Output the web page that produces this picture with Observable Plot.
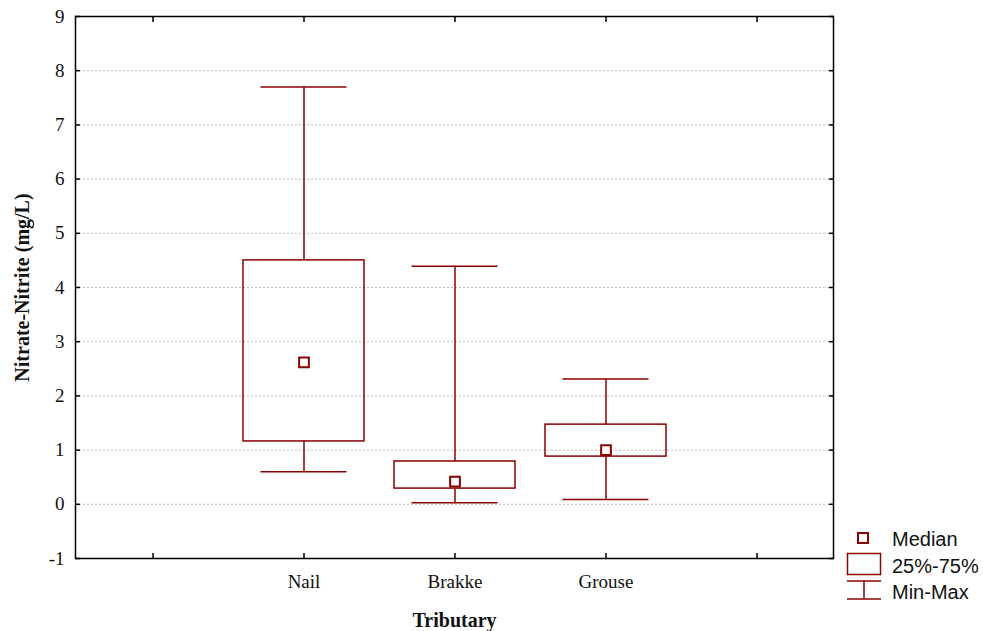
<!DOCTYPE html>
<html><head><meta charset="utf-8">
<script src="https://cdn.jsdelivr.net/npm/d3@7"></script>
<script src="https://cdn.jsdelivr.net/npm/@observablehq/plot@0.6"></script>
<style>
body{margin:0;background:#fff;}
#wrap{position:relative;width:983px;height:631px;background:#fff;}
#wrap svg{display:block;}
#legend{position:absolute;left:840px;top:525px;}
</style></head><body><div id="wrap"></div>
<script>
const categories = ["Nail", "Brakke", "Grouse"];
const mins    = [0.60, 0.03, 0.09];
const q1s     = [1.16, 0.29, 0.88];
const medians = [2.62, 0.42, 1.00];
const q3s     = [4.50, 0.79, 1.47];
const maxs    = [7.70, 4.39, 2.31];
const yTicks = [-1, 0, 1, 2, 3, 4, 5, 6, 7, 8, 9];
const gridTicks = [0, 1, 2, 3, 4, 5, 6, 7, 8];
const legendLabels = ["Median", "25%-75%", "Min-Max"];
const yLabel = "Nitrate-Nitrite (mg/L)";
const xLabel = "Tributary";

const color = "#8b0000";
const serif = "'Liberation Serif', 'Times New Roman', serif";
const sans = "'Liberation Sans', Arial, sans-serif";
const xDomain = ["", ...categories, " "];
const data = categories.map((c, i) => ({cat: c, min: mins[i], q1: q1s[i], med: medians[i], q3: q3s[i], max: maxs[i]}));

const chart = Plot.plot({
  width: 983, height: 631,
  marginLeft: 75, marginRight: 150, marginTop: 16, marginBottom: 73,
  style: {background: "white", fontFamily: serif},
  x: {type: "band", domain: xDomain, paddingInner: 0.2, paddingOuter: 0.1, axis: null},
  y: {domain: [-1, 9], axis: null},
  marks: [
    Plot.gridY(gridTicks, {stroke: "#bdbdbd", strokeOpacity: 1, strokeDasharray: "2,2"}),
    // labels
    Plot.axisY(yTicks, {anchor: "left", tickSize: 0, tickPadding: 11, fontSize: 19, fontFamily: serif, tickFormat: d => String(d), label: null, fill: "#111"}),
    Plot.axisX({anchor: "bottom", tickSize: 0, tickPadding: 16, fontSize: 19, fontFamily: serif, tickFormat: d => d.trim(), label: null, fill: "#111"}),
    // inward ticks
    Plot.axisY(yTicks, {anchor: "left", tickSize: 5, dx: 5, tickFormat: () => "", label: null, strokeWidth: 1.5}),
    Plot.axisY(yTicks, {anchor: "right", tickSize: 5, dx: -5, tickFormat: () => "", label: null, strokeWidth: 1.5}),
    Plot.axisX({anchor: "bottom", tickSize: 5, dy: -5, tickFormat: () => "", label: null, strokeWidth: 1.5}),
    Plot.axisX({anchor: "top", tickSize: 5, dy: 5, tickFormat: () => "", label: null, strokeWidth: 1.5}),
    Plot.frame({stroke: "black", strokeWidth: 1.5}),
    // whiskers
    Plot.ruleX(data, {x: "cat", y1: "min", y2: "q1", stroke: color, strokeWidth: 1.5}),
    Plot.ruleX(data, {x: "cat", y1: "q3", y2: "max", stroke: color, strokeWidth: 1.5}),
    Plot.tickY(data, {x: "cat", y: "min", insetLeft: 17.5, insetRight: 17.5, stroke: color, strokeWidth: 1.5}),
    Plot.tickY(data, {x: "cat", y: "max", insetLeft: 17.5, insetRight: 17.5, stroke: color, strokeWidth: 1.5}),
    // boxes
    Plot.barY(data, {x: "cat", y1: "q1", y2: "q3", fill: "none", stroke: color, strokeWidth: 1.5}),
    // medians
    Plot.dot(data, {x: "cat", y: "med", symbol: "square", r: 5.5, fill: "white", stroke: color, strokeWidth: 2}),
    // axis titles
    Plot.text([yLabel], {frameAnchor: "left", dx: -53, rotate: -90, textAnchor: "middle", lineAnchor: "middle", fontSize: 20, fontWeight: "bold", fontFamily: serif, fill: "#111"}),
    Plot.text([xLabel], {frameAnchor: "bottom", dy: 62, textAnchor: "middle", lineAnchor: "middle", fontSize: 20, fontWeight: "bold", fontFamily: serif, fill: "#111"})
  ]
});
const wrap = document.getElementById("wrap");
wrap.appendChild(chart);

// legend
const lg = d3.create("svg").attr("id", "legend").attr("width", 143).attr("height", 85);
lg.append("rect").attr("x", 18).attr("y", 8).attr("width", 10).attr("height", 10)
  .attr("fill", "white").attr("stroke", color).attr("stroke-width", 2);
lg.append("rect").attr("x", 7.5).attr("y", 28.5).attr("width", 33).attr("height", 21)
  .attr("fill", "white").attr("stroke", color).attr("stroke-width", 1.5);
lg.append("line").attr("x1", 7).attr("x2", 41).attr("y1", 56).attr("y2", 56).attr("stroke", color).attr("stroke-width", 1.5);
lg.append("line").attr("x1", 7).attr("x2", 41).attr("y1", 74).attr("y2", 74).attr("stroke", color).attr("stroke-width", 1.5);
lg.append("line").attr("x1", 24).attr("x2", 24).attr("y1", 56).attr("y2", 74).attr("stroke", color).attr("stroke-width", 1.5);
const ly = [14, 41, 67];
legendLabels.forEach((t, i) => {
  lg.append("text").attr("x", 52).attr("y", ly[i]).attr("dy", "0.35em")
    .attr("font-family", sans).attr("font-size", 20).attr("fill", "#111").text(t);
});
wrap.appendChild(lg.node());
</script></body></html>
